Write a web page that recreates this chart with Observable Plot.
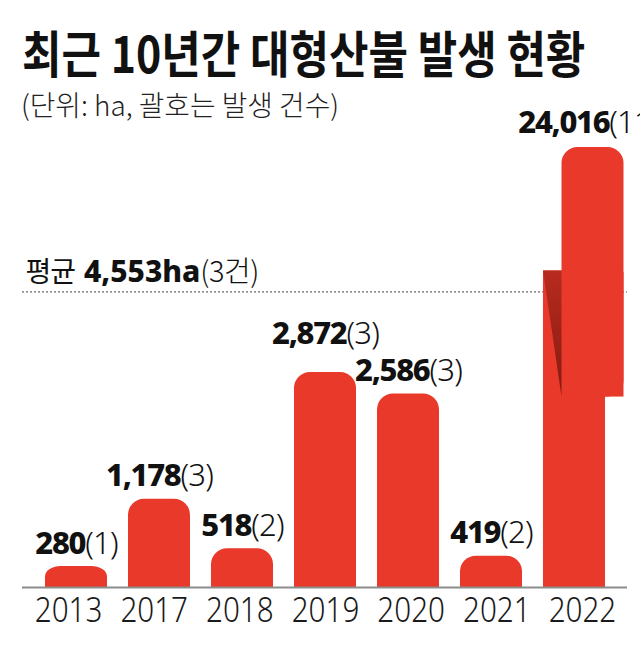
<!DOCTYPE html>
<html><head><meta charset="utf-8">
<script src="https://cdn.jsdelivr.net/npm/d3@7"></script>
<script src="https://cdn.jsdelivr.net/npm/@observablehq/plot@0.6"></script>
<style>
body{margin:0;background:#fff;width:640px;height:645px;overflow:hidden;position:relative;}
#title{position:absolute;left:22px;top:26px;font-family:"Noto Sans CJK KR";font-weight:700;font-size:50px;line-height:1;color:#111;white-space:nowrap;transform-origin:0 0;}
#subtitle{position:absolute;left:21px;top:90px;font-family:"Noto Sans CJK KR";font-weight:300;font-size:28px;line-height:1;color:#222;white-space:nowrap;transform-origin:0 0;}
#chart{position:absolute;left:0;top:100px;}
#chart svg{background:transparent;overflow:visible;}
</style></head>
<body>
<div id="title">최근 10년간 대형산불 발생 현황</div>
<div id="subtitle">(단위: ha, 괄호는 발생 건수)</div>
<div id="chart"></div>
<script>
// ---- data ----
const years  = ["2013", "2017", "2018", "2019", "2020", "2021", "2022"];
const areas  = [280, 1178, 518, 2872, 2586, 419, 24016];   // ha
const counts = [1, 3, 2, 3, 3, 2, 11];                      // fires
const avgArea  = 4553;   // ha
const avgCount = 3;      // fires
// drawn y scale and the axis break of the off-scale 2022 bar (values on that scale)
const yMax       = 5880;
const breakLower = 4230;
const breakUpper = 2545;
const avgLineAt  = 3950;

// ---- build ----
const data = years.map((year, i) => ({year, area: areas[i], count: counts[i]}));
const normal = data.filter(d => d.area <= yMax);
const big = data.filter(d => d.area > yMax);
const red = "#e8392b";
const shift = 18.5;        // sideways offset of the broken bar's upper piece
const labelSpread = 1.032; // year labels are spaced a little wider than the bars
const fmt = d3.format(",");

const fold = Plot.barY(big, {
  x: "year", y1: () => breakUpper, y2: () => breakLower, fill: "none",
  render: (index, scales, values) => {
    const g = d3.create("svg:g");
    const grad = g.append("defs").append("linearGradient")
      .attr("id", "foldgrad").attr("x1", 0).attr("y1", 0).attr("x2", 0).attr("y2", 1);
    grad.append("stop").attr("offset", 0).attr("stop-color", "#b82b1f");
    grad.append("stop").attr("offset", 1).attr("stop-color", "#861a10");
    for (const i of index) {
      const x0 = values.x[i], yt = values.y2[i], yb = values.y1[i];
      g.append("path")
        .attr("d", `M${x0},${yt}L${x0 + shift},${yt}L${x0 + shift},${yb}Z`)
        .attr("fill", "url(#foldgrad)");
    }
    return g.node();
  }
});

const yearLabels = Plot.text(years, {
  x: d => d, frameAnchor: "bottom", lineAnchor: "top", dy: 10,
  fontSize: 34, fontWeight: 300, fill: "#1a1a1a",
  render(index, scales, values, dims, context, next) {
    const xs = Array.from(values.x);
    const c = (Math.min(...xs) + Math.max(...xs)) / 2;
    return next(index, scales, {...values, x: values.x.map(x => c + (x - c) * labelSpread)}, dims, context);
  }
});

const chart = Plot.plot({
  width: 640,
  height: 545,
  marginTop: 47,
  marginBottom: 58,
  marginLeft: 22,
  marginRight: 13,
  style: {background: "transparent", fontFamily: "'Noto Sans', sans-serif", color: "#1a1a1a"},
  x: {domain: years, padding: 0.255, axis: null},
  y: {domain: [0, yMax], axis: null},
  marks: [
    Plot.ruleY([avgLineAt], {stroke: "#444", strokeWidth: 1, strokeDasharray: "2,2"}),
    Plot.barY(normal, {x: "year", y: "area", fill: red, rx: 16}),
    Plot.barY(normal, {x: "year", y: d => d.area / 2, fill: red}),
    Plot.barY(big, {x: "year", y1: () => 0, y2: () => breakLower, fill: red}),
    Plot.barY(big, {x: "year", y1: () => breakUpper, y2: () => yMax, fill: red, rx: 16, dx: shift}),
    Plot.barY(big, {x: "year", y1: () => breakUpper, y2: () => (breakUpper + yMax) / 2, fill: red, dx: shift}),
    fold,
    Plot.ruleY([0], {stroke: "#8c8c8c", strokeWidth: 2}),
    yearLabels,
    Plot.text(normal, {x: "year", y: "area", text: d => `${fmt(d.area)}|(${d.count})`, lineAnchor: "bottom", dy: -13, fontSize: 31, fill: "#111"}),
    Plot.text(big, {x: "year", y: () => yMax, text: d => `${fmt(d.area)}|(${d.count})`, lineAnchor: "bottom", dy: -15, dx: 14, fontSize: 31, fill: "#111"}),
    Plot.text([avgArea], {frameAnchor: "left", y: () => avgLineAt, text: d => `평균|${fmt(d)}ha|(${avgCount}건)`, textAnchor: "start", lineAnchor: "bottom", dy: -10, dx: 3, fontSize: 28, fill: "#111"})
  ]
});
document.getElementById("chart").appendChild(chart);

// ---- typographic finishing (condensed fonts, mixed weights) ----
const texts = Array.from(chart.querySelectorAll("text"));
const valueLabels = [];
for (const el of texts) {
  const s = el.textContent;
  if (!s.includes("|")) continue;
  const parts = s.split("|");
  const t = d3.select(el).text(null);
  if (parts.length === 2) {
    t.append("tspan").attr("font-weight", 800).attr("letter-spacing", "-1.3").text(parts[0]);
    t.append("tspan").attr("font-weight", 300).attr("letter-spacing", "-0.8").text(parts[1]);
    valueLabels.push(el);
  } else {
    t.append("tspan").attr("font-family", "'Noto Sans CJK KR'").attr("font-weight", 400).attr("letter-spacing", "-1").text(parts[0]);
    t.append("tspan").attr("dx", 9).attr("font-weight", 800).attr("font-size", 30).attr("letter-spacing", "0").text(parts[1]);
    t.append("tspan").attr("font-family", "'Noto Sans CJK KR'").attr("font-weight", 300).attr("font-size", 29).attr("letter-spacing", "-0.5").text(parts[2]);
  }
}
// year tick labels: condensed face
for (const el of texts) {
  if (/^\d{4}$/.test(el.textContent)) {
    const w = el.getComputedTextLength();
    el.setAttribute("textLength", (w * 0.87).toFixed(1));
    el.setAttribute("lengthAdjust", "spacingAndGlyphs");
  }
}
// lift a value label that would collide with its right neighbour (one line above it)
for (let i = valueLabels.length - 2; i >= 0; i--) {
  const ax = valueLabels[i].getBoundingClientRect(), bx = valueLabels[i + 1].getBoundingClientRect();
  const overlapX = ax.right > bx.left && ax.left < bx.right;
  const overlapY = ax.bottom > bx.top && ax.top < bx.bottom;
  if (overlapX && overlapY) {
    const lift = (ax.bottom - bx.bottom) + 36.5;
    const cur = valueLabels[i].getAttribute("transform") || "";
    valueLabels[i].setAttribute("transform", `${cur} translate(0,${-lift})`);
  }
}
// condensed HTML title / subtitle
function squeeze(id, target) {
  const el = document.getElementById(id);
  el.style.transform = `scaleX(${target / el.offsetWidth})`;
}
squeeze("title", 563);
squeeze("subtitle", 318);
</script>
</body></html>
